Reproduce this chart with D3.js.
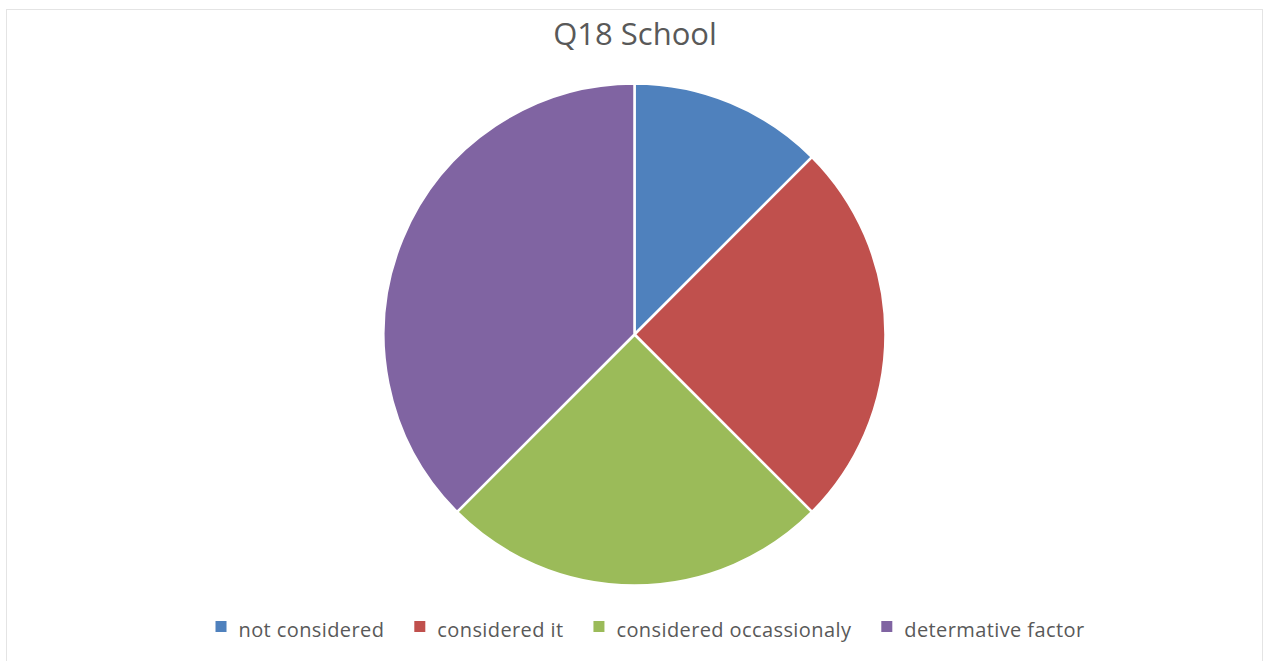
<!DOCTYPE html>
<html>
<head>
<meta charset="utf-8">
<script src="https://cdn.jsdelivr.net/npm/d3@7/dist/d3.min.js"></script>
<style>
  html, body { margin: 0; padding: 0; background: #fff; }
  svg { display: block; }
</style>
</head>
<body>
<svg id="chart" width="1265" height="661"></svg>
<script>
// Q18 School responses
const categories = ["not considered", "considered it", "considered occassionaly", "determative factor"];
const values = [1, 2, 2, 3];
const colors = ["#4F81BD", "#C0504D", "#9BBB59", "#8064A2"];
const title = "Q18 School";

const W = 1265, H = 661;
const svg = d3.select("#chart");
const font = "'Open Sans', 'Liberation Sans', sans-serif";

// chart area frame
svg.append("rect")
  .attr("x", 6.5).attr("y", 9.5)
  .attr("width", 1256).attr("height", 660)
  .attr("fill", "#fff")
  .attr("stroke", "#e4e4e4")
  .attr("stroke-width", 1);

svg.append("text")
  .attr("x", 635).attr("y", 45)
  .attr("text-anchor", "middle")
  .attr("font-family", font)
  .attr("font-size", 31)
  .attr("fill", "#595959")
  .text(title);

const cx = 634.5, cy = 334.5, r = 251;
const pie = d3.pie().sort(null).value(d => d.v);
const arc = d3.arc().innerRadius(0).outerRadius(r);
const data = categories.map((c, i) => ({ c, v: values[i], col: colors[i] }));

svg.append("g")
  .attr("transform", `translate(${cx},${cy})`)
  .selectAll("path")
  .data(pie(data))
  .join("path")
  .attr("d", arc)
  .attr("fill", d => d.data.col)
  .attr("stroke", "#fff")
  .attr("stroke-width", 2.5)
  .attr("stroke-linejoin", "round");

// legend
const baseline = 637;
const fontSize = 20;
const sw = 11, gapText = 12, gapItem = 30;
const lg = svg.append("g");
const items = lg.selectAll("g").data(data).join("g");
items.append("rect")
  .attr("width", sw).attr("height", sw)
  .attr("y", 621)
  .attr("fill", d => d.col);
items.append("text")
  .attr("x", sw + gapText)
  .attr("y", baseline)
  .attr("font-family", font)
  .attr("font-size", fontSize)
  .attr("letter-spacing", 0.4)
  .attr("fill", "#595959")
  .text(d => d.c);
const widths = [];
items.each(function () {
  widths.push(this.querySelector("text").getComputedTextLength() + sw + gapText);
});
const total = d3.sum(widths) + gapItem * (widths.length - 1);
let start = 650 - total / 2;
items.attr("transform", (d, i) => {
  const t = `translate(${start},0)`;
  start += widths[i] + gapItem;
  return t;
});
</script>
</body>
</html>
